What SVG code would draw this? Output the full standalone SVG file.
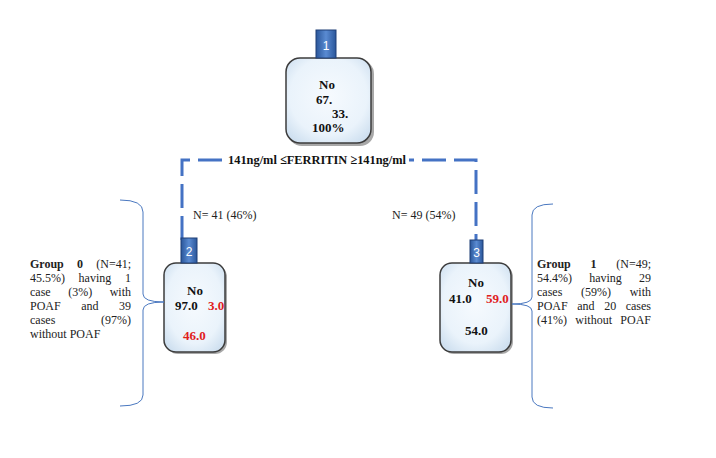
<svg xmlns="http://www.w3.org/2000/svg" width="716" height="458" viewBox="0 0 716 458">
<defs>
<linearGradient id="tabG" x1="0" y1="0" x2="1" y2="0">
<stop offset="0" stop-color="#2a569a"/>
<stop offset="0.5" stop-color="#5a8bd2"/>
<stop offset="1" stop-color="#2a569a"/>
</linearGradient>
<radialGradient id="boxG" cx="0.5" cy="0.45" r="0.65">
<stop offset="0" stop-color="#f6fafe"/>
<stop offset="0.7" stop-color="#eaf3fb"/>
<stop offset="1" stop-color="#cfe0f0"/>
</radialGradient>
<style>
.box{fill:url(#boxG);stroke:#3c3c3c;stroke-width:1.5}
.shadow{fill:#a8a8a8}
.tab{fill:url(#tabG);stroke:#1f3f77;stroke-width:1}
.tabt{font-family:"Liberation Sans",Arial,sans-serif;font-size:12px;fill:#ffffff;text-anchor:middle}
.b{font-family:"Liberation Serif","Times New Roman",serif;font-size:13px;font-weight:bold;fill:#111}
.r{fill:#e0201c}
.t{font-family:"Liberation Serif","Times New Roman",serif;font-size:12px;fill:#222}
.tb{font-weight:bold}
.e{text-anchor:end}
.dash{fill:none;stroke:#4472c4;stroke-width:3;stroke-dasharray:24 8}
.brace{fill:none;stroke:#4a78c0;stroke-width:1}
</style>
</defs>
<rect width="716" height="458" fill="#ffffff"/>

<g id="connectors">
<path class="dash" d="M182,240 V160 H476 V240"/>
<rect x="223" y="150" width="186" height="18" fill="#ffffff"/>
<text class="b" x="228" y="164" font-size="12px" textLength="178" lengthAdjust="spacingAndGlyphs">141ng/ml ≤FERRITIN ≥141ng/ml</text>
<text class="t" x="193" y="219" font-size="13px">N= 41 (46%)</text>
<text class="t" x="392" y="219" font-size="13px">N= 49 (54%)</text>
</g>

<g id="node1">
<rect class="shadow" x="288" y="60" width="86" height="86" rx="14"/>
<rect class="box" x="286" y="58" width="85" height="85" rx="14"/>
<rect class="tab" x="316" y="30" width="20" height="28"/>
<text class="tabt" x="326" y="50">1</text>
<text class="b" x="319" y="89">No</text>
<text class="b" x="316" y="104">67.</text>
<text class="b" x="332" y="118">33.</text>
<text class="b" x="312" y="132">100%</text>
</g>

<g id="node2">
<rect class="shadow" x="166" y="265" width="61" height="89" rx="12"/>
<rect class="box" x="164" y="263" width="61" height="89" rx="12"/>
<rect class="tab" x="181" y="238" width="16" height="25"/>
<text class="tabt" x="189" y="256">2</text>
<text class="b" x="187" y="295">No</text>
<text class="b" x="175" y="310">97.0</text>
<text class="b r" x="208" y="310">3.0</text>
<text class="b r" x="183" y="340">46.0</text>
</g>

<g id="node3">
<rect class="shadow" x="442" y="265" width="71" height="89" rx="12"/>
<rect class="box" x="440" y="263" width="71" height="89" rx="12"/>
<rect class="tab" x="470" y="240" width="13" height="23"/>
<text class="tabt" x="476.5" y="257">3</text>
<text class="b" x="468" y="287">No</text>
<text class="b" x="449" y="303">41.0</text>
<text class="b r" x="486" y="303">59.0</text>
<text class="b" x="465" y="335">54.0</text>
</g>

<g id="group0">
<path class="brace" d="M120,200 Q143,200 143,212 L143,294 Q143,302 164,302 Q143,302 143,310 L143,395 Q143,406 120,406"/>
<text class="t" y="268"><tspan class="tb" x="30">Group</tspan><tspan class="tb" x="77">0</tspan><tspan class="e" x="131">(N=41;</tspan></text>
<text class="t" y="282"><tspan x="30">45.5%)</tspan><tspan x="78.6">having</tspan><tspan class="e" x="131">1</tspan></text>
<text class="t" y="296"><tspan x="30">case</tspan><tspan x="68.2">(3%)</tspan><tspan class="e" x="131">with</tspan></text>
<text class="t" y="310"><tspan x="30">POAF</tspan><tspan x="81.2">and</tspan><tspan class="e" x="131">39</tspan></text>
<text class="t" y="324"><tspan x="30">cases</tspan><tspan class="e" x="131">(97%)</tspan></text>
<text class="t" x="30" y="338">without POAF</text>
</g>

<g id="group1">
<path class="brace" d="M553,204 Q532,204 532,215 L532,297 Q532,304 512,304 Q532,304 532,311 L532,397 Q532,408 553,408"/>
<text class="t" y="268"><tspan class="tb" x="537">Group</tspan><tspan class="tb" x="590.6">1</tspan><tspan class="e" x="651">(N=49;</tspan></text>
<text class="t" y="282"><tspan x="537">54.4%)</tspan><tspan x="589.2">having</tspan><tspan class="e" x="651">29</tspan></text>
<text class="t" y="296"><tspan x="537">cases</tspan><tspan x="581">(59%)</tspan><tspan class="e" x="651">with</tspan></text>
<text class="t" y="310"><tspan x="537">POAF</tspan><tspan x="577.3">and</tspan><tspan x="604.2">20</tspan><tspan class="e" x="651">cases</tspan></text>
<text class="t" y="324"><tspan x="537">(41%)</tspan><tspan x="575.3">without</tspan><tspan class="e" x="651">POAF</tspan></text>
</g>
</svg>
